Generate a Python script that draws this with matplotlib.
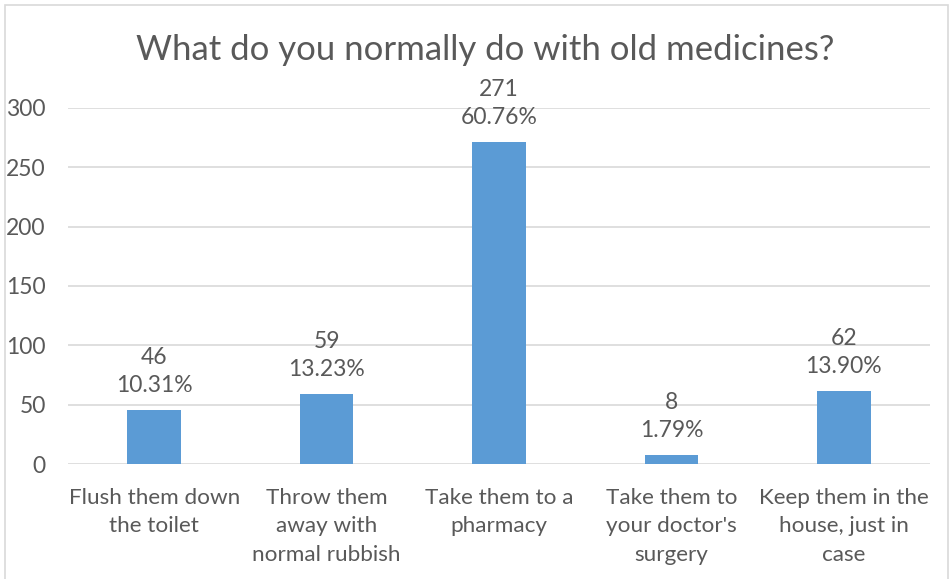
import matplotlib
matplotlib.use("Agg")
import matplotlib.pyplot as plt
from matplotlib.patches import Rectangle

categories = ["Flush them down\nthe toilet", "Throw them\naway with\nnormal rubbish",
              "Take them to a\npharmacy", "Take them to\nyour doctor's\nsurgery",
              "Keep them in the\nhouse, just in\ncase"]
counts = [46, 59, 271, 8, 62]
percents = ["10.31%", "13.23%", "60.76%", "1.79%", "13.90%"]
yticks = [0, 50, 100, 150, 200, 250, 300]

plt.rcParams['font.family'] = ['Lato', 'DejaVu Sans']
txt = '#595959'

W, H = 953, 579
fig = plt.figure(figsize=(W/100, H/100), dpi=100)
ax = fig.add_axes([68/W, 1-464.3/H, (930-68)/W, (464.3-107.7)/H])

x = list(range(len(counts)))
ax.bar(x, counts, width=0.31, color='#5B9BD5', zorder=3)
ax.set_xlim(-0.5, len(counts)-0.5)
ax.set_ylim(0, 300)
ax.set_yticks(yticks)
ax.set_yticklabels([str(v) for v in yticks], fontsize=16.5, color=txt)
ax.set_xticks(x)
ax.set_xticklabels(categories, fontsize=16.2, color=txt, linespacing=1.52, va='top')
ax.tick_params(axis='both', length=0)
ax.tick_params(axis='y', pad=16)
ax.tick_params(axis='x', pad=17)
ax.grid(axis='y', color='#D9D9D9', linewidth=1.2, zorder=0)
for s in ax.spines.values():
    s.set_visible(False)

for xi, c, p in zip(x, counts, percents):
    ax.annotate(f"{c}\n{p}", (xi, c), xytext=(0, 10), textcoords='offset points',
                ha='center', va='bottom', fontsize=16.5, color=txt, linespacing=1.42)

fig.text(485/W, 1-50/H, "What do you normally do with old medicines?", ha='center', va='center',
         fontsize=25, color=txt)

fig.add_artist(Rectangle((5/W, -0.1), (948-5)/W, 1.1-5/H, transform=fig.transFigure,
                         fill=False, edgecolor='#D9D9D9', linewidth=1.2))

fig.savefig("out.png", dpi=100)
